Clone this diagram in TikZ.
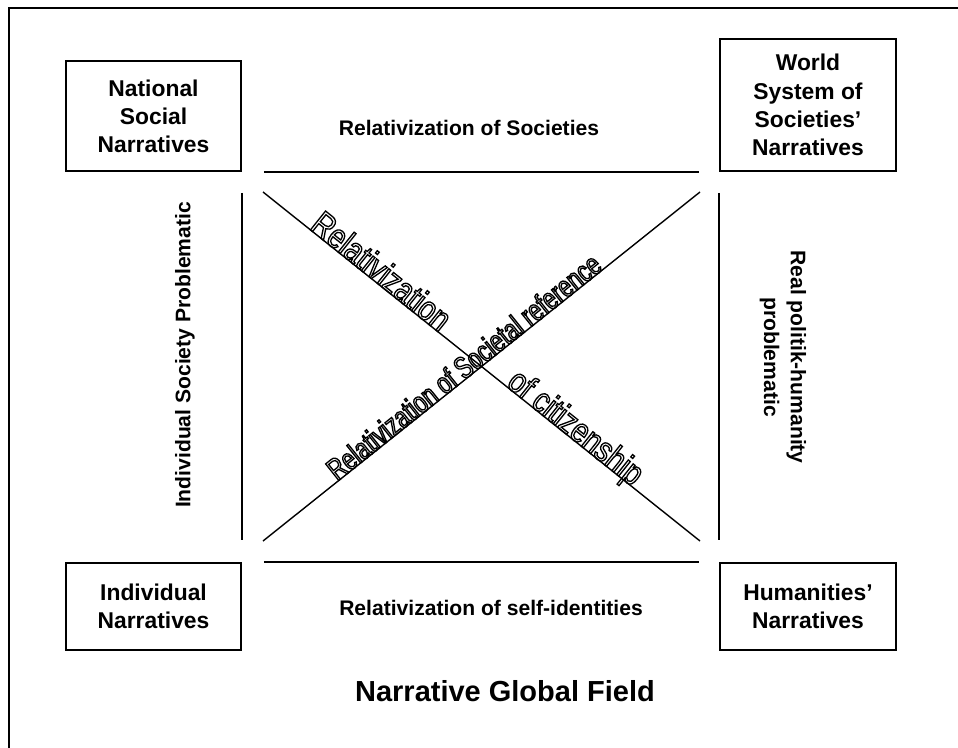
\documentclass[tikz,border=0pt]{standalone}
\usepackage{fontspec}
\setmainfont{Liberation Sans}
\newfontfamily\artwide[FakeStretch=0.8]{Liberation Sans}
\newfontfamily\artnarrow[FakeStretch=0.72]{Liberation Sans}
\usetikzlibrary{positioning}

\newcommand{\hollow}[1]{\special{pdf:literal direct 1 Tr 0.75 w}#1\special{pdf:literal direct 0 Tr}}

\begin{document}
\begin{tikzpicture}[
	cornerbox/.style={shape=rectangle,draw=black,line width=1pt,align=center,inner sep=0pt,font=\fontsize{13}{16}\selectfont\bfseries},
	sidetext/.style={align=center,font=\fontsize{12}{15.3}\selectfont\bfseries},
	link/.style={line width=1.1pt},
	diag/.style={line width=0.8pt},
	wordart/.style={sloped,anchor=base,inner sep=0pt,font=\artwide\fontsize{20}{22}\selectfont}
]
	
	\useasboundingbox (0,0) rectangle (19.16,14.94);
	\draw[line width=0.9pt] (0.18,-1) rectangle (20,14.78);
	
	
	\node[cornerbox,minimum width=3.5cm,minimum height=2.2cm] (nsn) at (3.07,12.62) {National\\Social\\Narratives};
	\node[cornerbox,minimum width=3.52cm,minimum height=2.64cm] (world) at (16.16,12.84) {World\\System of\\Societies'\\Narratives};
	
	
	\node[cornerbox,minimum width=3.5cm,minimum height=1.74cm] (ind) at (3.07,2.81) {Individual\\Narratives};
	\node[cornerbox,minimum width=3.52cm,minimum height=1.74cm] (hum) at (16.16,2.81) {Humanities'\\Narratives};
	
	
	\coordinate (tl) at (5.26,11.1);
	\coordinate (tr) at (14.0,11.1);
	\coordinate (bl) at (5.26,4.12);
	\coordinate (br) at (14.0,4.12);
	
	
	\draw[link,shorten <=0.44cm,shorten >=0.4cm] (nsn.south east) -- (world.south west);
	\draw[link,shorten <=0.44cm,shorten >=0.4cm] (ind.north east) -- (hum.north west);
	\draw[link,shorten <=0.42cm,shorten >=0.44cm] (nsn.south east) -- (ind.north east);
	\draw[link,shorten <=0.42cm,shorten >=0.44cm] (world.south west) -- (hum.north west);
	
	\draw[diag] (tl) -- (br);
	\draw[diag] (bl) -- (tr);
	
	
	%text along the crossing lines
	\path (tl) -- (br)
		node[wordart,pos=0.254] (rel) {\hollow{Relativization}}
		node[wordart,pos=0.70] (cit) {\hollow{of citizenship}};
	\path (bl) -- (tr)
		node[wordart,pos=0.475,font=\artnarrow\fontsize{17.5}{19}\selectfont] (ref) {\hollow{Relativization of Societal reference}};
	
	
	\node[sidetext] (soc) at (9.38,12.38) {Relativization of Societies};
	\node[sidetext] (self) at (9.82,2.78) {Relativization of self-identities};
	\node[sidetext,rotate=90] (isp) at (3.7,7.84) {Individual Society Problematic};
	\node[sidetext,rotate=-90] (rph) at (15.66,7.8) {Real politik-humanity\\problematic};
	
	\node[font=\fontsize{16.5}{20}\selectfont\bfseries] (title) at (10.1,1.12) {Narrative Global Field};
	
\end{tikzpicture}
\end{document}
